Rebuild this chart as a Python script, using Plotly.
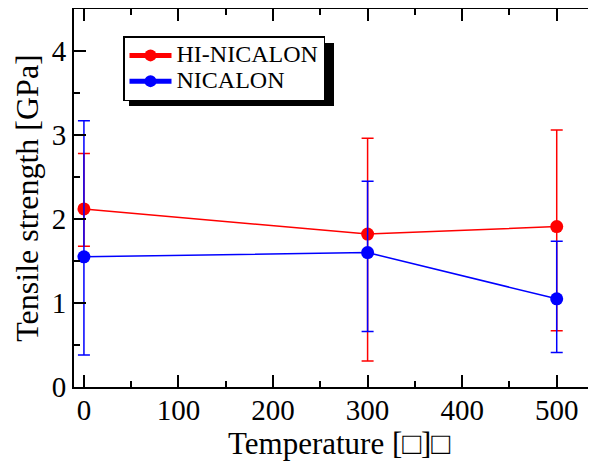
import plotly.graph_objects as go

temps = [0, 300, 500]
hi_nicalon = [2.12, 1.82, 1.91]
hi_err_plus = [0.66, 1.14, 1.15]
hi_err_minus = [0.445, 1.51, 1.24]
nicalon = [1.55, 1.60, 1.05]
ni_err_plus = [1.62, 0.85, 0.685]
ni_err_minus = [1.17, 0.94, 0.64]

FONT = "Liberation Serif"

# page body has an 8px margin; figure is laid out accordingly
L, T = 66, 1
W, H = 596, 464
PW = W - L          # plot width (right axis falls just outside the window)
PH = 378            # plot height

def px(x):  # page pixel -> paper x
    return (x - 8 - L) / PW

def py(y):  # page pixel -> paper y
    return (T + PH - (y - 8)) / PH

fig = go.Figure()
fig.add_trace(go.Scatter(
    x=temps, y=hi_nicalon, name="<span style='font-size:24px'>HI-NICALON</span>", mode="lines+markers",
    line=dict(color="#ff0000", width=1.5),
    marker=dict(color="#ff0000", size=13),
    error_y=dict(type="data", symmetric=False, array=hi_err_plus, arrayminus=hi_err_minus,
                 color="#ff0000", thickness=1.5, width=6),
))
fig.add_trace(go.Scatter(
    x=temps, y=nicalon, name="<span style='font-size:24px'>NICALON</span>", mode="lines+markers",
    line=dict(color="#0000ff", width=1.5),
    marker=dict(color="#0000ff", size=13),
    error_y=dict(type="data", symmetric=False, array=ni_err_plus, arrayminus=ni_err_minus,
                 color="#0000ff", thickness=1.5, width=6),
))

axis_common = dict(
    showline=True, linecolor="black", linewidth=2, mirror="ticks",
    ticks="inside", ticklen=12, tickwidth=1.5, tickcolor="black",
    showgrid=False, zeroline=False, automargin=False,
    tickfont=dict(family=FONT, size=29, color="black"),
)

fig.update_xaxes(
    range=[-10.5, 550], tickvals=[0, 100, 200, 300, 400, 500],
    ticklabelstandoff=-4,
    minor=dict(dtick=50, ticks="inside", ticklen=6, tickwidth=1.5, tickcolor="black", showgrid=False),
    title=dict(text="Temperature [□]□", font=dict(family=FONT, size=31, color="black"), standoff=2),
    **axis_common,
)
fig.update_yaxes(
    range=[0, 4.5], tickvals=[0, 1, 2, 3, 4],
    minor=dict(dtick=0.5, ticks="inside", ticklen=6, tickwidth=1.5, tickcolor="black", showgrid=False),
    title=dict(text="Tensile strength [GPa]", font=dict(family=FONT, size=32, color="black"), standoff=4),
    **axis_common,
)

# legend shadow
fig.add_shape(type="rect", xref="paper", yref="paper",
              x0=px(129), x1=px(334), y0=py(106), y1=py(43),
              fillcolor="black", line=dict(width=0), layer="above")

fig.update_layout(
    width=W, height=H,
    margin=dict(l=L, r=0, t=T, b=H - T - PH, autoexpand=False),
    paper_bgcolor="white", plot_bgcolor="white",
    showlegend=True,
    legend=dict(x=px(123), y=py(36), xanchor="left", yanchor="top",
                bgcolor="white", bordercolor="black", borderwidth=1.5,
                font=dict(family=FONT, size=17.5, color="black"),
                tracegroupgap=0, itemsizing="constant", itemwidth=42),
)

fig.write_html("out.html")
